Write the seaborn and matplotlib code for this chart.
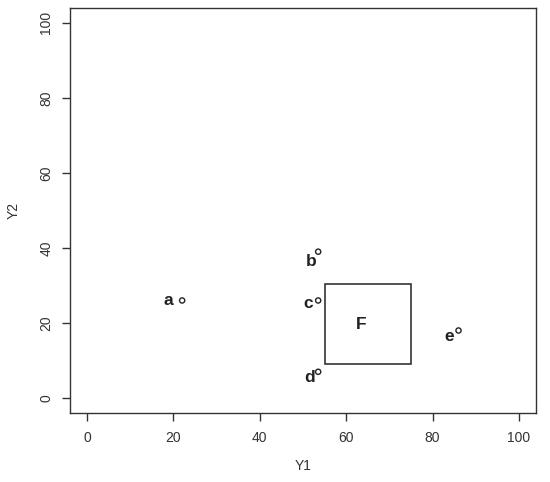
import matplotlib
matplotlib.use("Agg")
import matplotlib.pyplot as plt
import seaborn as sns
import pandas as pd
from matplotlib.patches import Rectangle

labels = ["a", "b", "c", "d", "e"]
y1 = [22, 53.5, 53.5, 53.5, 86]
y2 = [26, 39, 26, 7, 18]
box_y1 = [55, 75]
box_y2 = [9, 30.5]
box_label = "F"
ticks = [0, 20, 40, 60, 80, 100]

df = pd.DataFrame({"Y1": y1, "Y2": y2, "label": labels})

sns.set_theme(style="ticks")
plt.rcParams["font.family"] = ["Liberation Sans", "DejaVu Sans"]

fig = plt.figure(figsize=(5.5, 4.82), dpi=100)
ax = fig.add_axes([0.127, 0.143, 0.848, 0.841])

sns.scatterplot(data=df, x="Y1", y="Y2", ax=ax, marker="o", s=14,
                facecolors="none", edgecolor="#222222", linewidth=1.0)

offsets = {"a": (-10, 0), "b": (-5, -7), "c": (-7, -2), "d": (-6, -4), "e": (-7, -4)}
for lab, xv, yv in zip(labels, y1, y2):
    dx, dy = offsets[lab]
    ax.annotate(lab, (xv, yv), xytext=(dx, dy), textcoords="offset points",
                ha="center", va="center", fontsize=12.5, fontweight="bold", color="#222222")

ax.add_patch(Rectangle((box_y1[0], box_y2[0]), box_y1[1] - box_y1[0], box_y2[1] - box_y2[0],
                       fill=False, edgecolor="#333333", linewidth=1.2))
ax.text(63.5, 19.5, box_label, ha="center", va="center", fontsize=12.5,
        fontweight="bold", color="#222222")

ax.set_xlim(-4, 104)
ax.set_ylim(-4, 104)
ax.set_xticks(ticks)
ax.set_yticks(ticks)
ax.tick_params(direction="out", length=6, width=1, pad=6, colors="#333333", labelsize=10,
               labelcolor="#333333")
ax.tick_params(axis="x", pad=7)
for lab in ax.get_yticklabels():
    lab.set_rotation(90)
    lab.set_va("center")
for sp in ax.spines.values():
    sp.set_visible(True)
    sp.set_color("#333333")
    sp.set_linewidth(1.0)
ax.set_xlabel("Y1", fontsize=10, color="#333333", labelpad=10)
ax.set_ylabel("Y2", fontsize=10, color="#333333", labelpad=13)

fig.savefig("out.png", dpi=100)
